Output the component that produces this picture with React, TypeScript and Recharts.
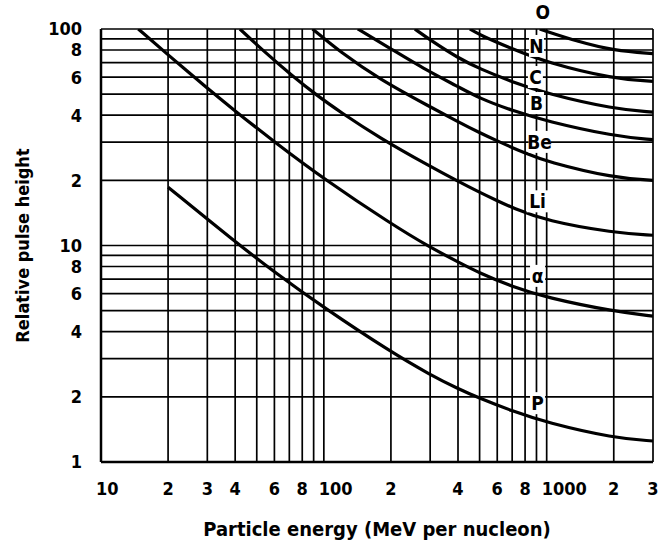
import React from 'react';
import { LineChart, Line, XAxis, YAxis, CartesianGrid, ReferenceDot, Label } from 'recharts';

const FONT = '"DejaVu Sans Condensed", "Liberation Sans Narrow", "DejaVu Sans", sans-serif';

// log grid: every 1..9 step of each decade
const X_TICKS = [10, 20, 30, 40, 50, 60, 70, 80, 90, 100, 200, 300, 400, 500, 600, 700, 800, 900, 1000, 2000, 3000];
const X_LABELS: Record<number, string> = {
  10: '10', 20: '2', 30: '3', 40: '4', 60: '6', 80: '8', 100: '100',
  200: '2', 400: '4', 600: '6', 800: '8', 1000: '1000', 2000: '2', 3000: '3',
};
const Y_TICKS = [1, 2, 3, 4, 5, 6, 7, 8, 9, 10, 20, 30, 40, 50, 60, 70, 80, 90, 100];
const Y_LABELS: Record<number, string> = {
  1: '1', 2: '2', 4: '4', 6: '6', 8: '8', 10: '10', 20: '2', 40: '4', 60: '6', 80: '8', 100: '100',
};

// energy (MeV per nucleon) / relative pulse height
const O_E = [930, 1400, 2000, 3000];
const O_H = [100, 87, 79.5, 77];
const N_E = [452, 500, 700, 1000, 2000, 3000];
const N_H = [100, 94, 81, 70, 58.8, 57.3];
const C_E = [256, 300, 400, 500, 700, 1000, 2000, 3000];
const C_H = [100, 89, 73.5, 65.5, 57, 50.3, 42.7, 41.3];
const B_E = [142, 198, 292, 396, 500, 700, 1000, 2000, 3000];
const B_H = [100, 81.5, 64, 54.5, 47.8, 42, 37.5, 32, 30.8];
const BE_E = [89, 118, 178, 300, 400, 500, 600, 800, 1000, 2000, 3000];
const BE_H = [100, 78.5, 58.5, 43.7, 37.3, 33.2, 30.4, 26.7, 24.4, 20.5, 20];
const LI_E = [42, 53, 72.5, 94, 118, 178, 300, 400, 500, 600, 700, 1000, 2000, 3000];
const LI_H = [100, 80, 60.5, 49, 41.5, 31.4, 23.2, 19.8, 17.6, 16.1, 14.95, 12.97, 11.45, 11.15];
const A_E = [14.7, 20, 30, 40, 60, 100, 200, 300, 400, 500, 700, 1000, 2000, 3000];
const A_H = [100, 76, 53.2, 41.8, 30.1, 20.3, 12.6, 9.8, 8.4, 7.46, 6.46, 5.74, 4.96, 4.72];
const P_E = [20, 40, 60, 100, 200, 300, 400, 500, 700, 1000, 2000, 3000];
const P_H = [18.6, 10.4, 7.54, 5.16, 3.22, 2.53, 2.18, 1.97, 1.72, 1.52, 1.29, 1.25];

const SERIES = [
  { name: 'O', e: O_E, h: O_H },
  { name: 'N', e: N_E, h: N_H },
  { name: 'C', e: C_E, h: C_H },
  { name: 'B', e: B_E, h: B_H },
  { name: 'Be', e: BE_E, h: BE_H },
  { name: 'Li', e: LI_E, h: LI_H },
  { name: 'α', e: A_E, h: A_H },
  { name: 'P', e: P_E, h: P_H },
];

// curve name tags placed near 900 MeV
const TAG_NAMES = ['O', 'N', 'C', 'B', 'Be', 'Li', 'α', 'P'];
const TAG_E = [960, 900, 890, 900, 930, 910, 910, 910];
const TAG_H = [120, 83.5, 60, 45.5, 30.1, 16, 7.24, 1.87];

const toPoints = (e: number[], h: number[]) => e.map((v, i) => ({ e: v, h: h[i] }));

const tickFont = { fontSize: 18, fontWeight: 700, fontFamily: FONT };

// "10", "100", "1000": the leading 1 sits on the grid line
const XTick = ({ x, y, payload }: any) => {
  const label = X_LABELS[payload.value] ?? '';
  if (!label) return null;
  const lead = label.length > 1;
  return (
    <text x={lead ? x - 5 : x} y={y} dy="0.71em" textAnchor={lead ? 'start' : 'middle'} fill="#000" style={tickFont}>
      {label}
    </text>
  );
};

const YTick = ({ x, y, payload }: any) => {
  const label = Y_LABELS[payload.value] ?? '';
  if (!label) return null;
  return (
    <text x={x} y={y} dy="0.36em" textAnchor="end" fill="#000" style={tickFont}>
      {label}
    </text>
  );
};

const Tag = ({ cx, cy, text }: { cx?: number; cy?: number; text: string }) => {
  if (cx == null || cy == null) return null;
  const w = text.length > 1 ? 22 : 15;
  return (
    <g>
      <rect x={cx - w / 2} y={cy - 11} width={w} height={22} fill="#fff" />
      <text x={cx} y={cy} dy="0.36em" textAnchor="middle" fill="#000"
        style={{ fontSize: 19, fontWeight: 700, fontFamily: FONT }}>
        {text}
      </text>
    </g>
  );
};

export default function App() {
  return (
    <div style={{ position: 'absolute', left: 0, top: 0, width: 658, height: 542, background: '#fff' }}>
      <LineChart width={658} height={542} margin={{ top: 29, right: 5, bottom: 0, left: 0 }}>
        <CartesianGrid stroke="#000" strokeWidth={1.7} />
        <XAxis
          dataKey="e"
          type="number"
          scale="log"
          domain={[10, 3000]}
          ticks={X_TICKS}
          allowDataOverflow
          tick={<XTick />}
          tickLine={false}
          tickSize={0}
          tickMargin={20}
          axisLine={{ stroke: '#000', strokeWidth: 2.5 }}
          height={80}
          interval={0}
        >
          <Label
            content={({ viewBox }: any) => (
              <text x={viewBox.x + viewBox.width / 2} y={viewBox.y + 74} textAnchor="middle" fill="#000"
                style={{ fontSize: 20, fontWeight: 700, fontFamily: FONT }}>
                Particle energy (MeV per nucleon)
              </text>
            )}
          />
        </XAxis>
        <YAxis
          dataKey="h"
          type="number"
          scale="log"
          domain={[1, 100]}
          ticks={Y_TICKS}
          allowDataOverflow
          tick={<YTick />}
          tickLine={false}
          tickSize={0}
          tickMargin={19}
          axisLine={{ stroke: '#000', strokeWidth: 2.5 }}
          width={101}
          interval={0}
        >
          <Label
            content={({ viewBox }: any) => {
              const x = viewBox.x + 23;
              const y = viewBox.y + viewBox.height / 2;
              return (
                <text x={x} y={y} transform={`rotate(-90 ${x} ${y})`} dy="0.35em" textAnchor="middle" fill="#000"
                  style={{ fontSize: 18, fontWeight: 700, fontFamily: FONT }}>
                  Relative pulse height
                </text>
              );
            }}
          />
        </YAxis>
        {SERIES.map((s) => (
          <Line
            key={s.name}
            data={toPoints(s.e, s.h)}
            dataKey="h"
            name={s.name}
            type="basis"
            stroke="#000"
            strokeWidth={3.2}
            dot={false}
            activeDot={false}
            isAnimationActive={false}
          />
        ))}
        {TAG_NAMES.map((t, i) => (
          <ReferenceDot
            key={t}
            x={TAG_E[i]}
            y={TAG_H[i]}
            r={0}
            ifOverflow="visible"
            shape={(p: any) => <Tag cx={p.cx} cy={p.cy} text={t} />}
          />
        ))}
      </LineChart>
    </div>
  );
}
